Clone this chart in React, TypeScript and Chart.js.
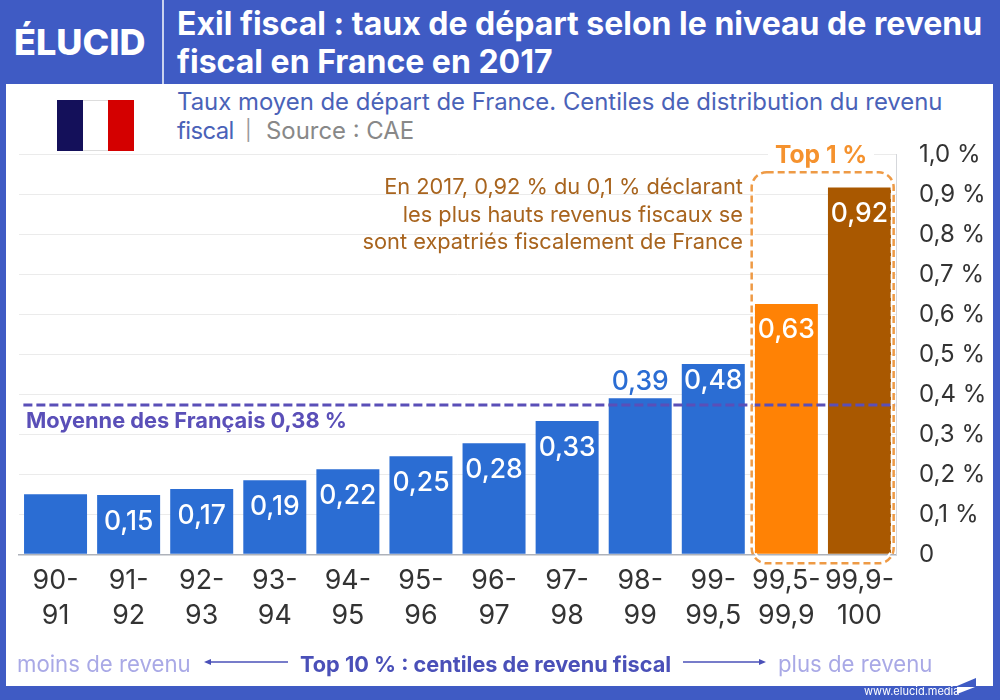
import React, { useEffect, useRef } from "react";
import { Chart, registerables } from "chart.js";

Chart.register(...registerables);

const categories = [
  ["90-", "91"], ["91-", "92"], ["92-", "93"], ["93-", "94"], ["94-", "95"], ["95-", "96"],
  ["96-", "97"], ["97-", "98"], ["98-", "99"], ["99-", "99,5"], ["99,5-", "99,9"], ["99,9-", "100"],
];
const barValues = [0.15, 0.148, 0.163, 0.185, 0.2125, 0.245, 0.2775, 0.333, 0.39, 0.476, 0.626, 0.917];
const valueLabels = ["", "0,15", "0,17", "0,19", "0,22", "0,25", "0,28", "0,33", "0,39", "0,48", "0,63", "0,92"];
const meanLevel = 0.373;
const yTicks = ["0", "0,1 %", "0,2 %", "0,3 %", "0,4 %", "0,5 %", "0,6 %", "0,7 %", "0,8 %", "0,9 %", "1,0 %"];

const FONT = "Inter, 'Open Sans', sans-serif";
const HEADER = "#3F5BC4";
const BLUE = "#2B6DD3";
const ORANGE = "#FF8205";
const BROWN = "#A95800";
const PURPLE = "#5A4FB8";
const BOX = "#EE9A45";
const barColors = barValues.map((_, i) => (i === 11 ? BROWN : i === 10 ? ORANGE : BLUE));

const overlayPlugin = {
  id: "overlay",
  afterDatasetsDraw(chart: any) {
    const { ctx, scales } = chart;
    const x = scales.x;
    const y = scales.y;
    ctx.save();
    ctx.font = `500 26.5px ${FONT}`;
    ctx.textAlign = "center";
    ctx.textBaseline = "middle";
    valueLabels.forEach((t, i) => {
      if (!t) return;
      const top = y.getPixelForValue(barValues[i]);
      const off = i === 8 ? -16 : i === 9 ? 17 : 26.5;
      ctx.fillStyle = i === 8 ? BLUE : "#fff";
      ctx.fillText(t, x.getPixelForValue(i), top + off);
    });
    const left = x.getPixelForValue(10) - 34.7;
    const right = x.getPixelForValue(11) + 34.2;
    const top = y.getPixelForValue(0.955);
    const bottom = y.getPixelForValue(-0.0225);
    const path = (inset: number) => {
      ctx.beginPath();
      ctx.roundRect(left + inset, top + inset, right - left - inset * 2, bottom - top - inset * 2, 15);
    };
    ctx.lineWidth = 2;
    ctx.strokeStyle = "#fff";
    ctx.setLineDash([6, 3]);
    path(2);
    ctx.stroke();
    ctx.lineWidth = 2.5;
    ctx.strokeStyle = BOX;
    ctx.setLineDash([7, 4]);
    path(0);
    ctx.stroke();
    ctx.restore();
  },
};

const abs = (left: number, top: number, extra: any = {}): any => ({
  position: "absolute",
  left,
  top,
  whiteSpace: "nowrap",
  fontFamily: FONT,
  ...extra,
});

export default function App() {
  const ref = useRef<HTMLCanvasElement>(null);
  useEffect(() => {
    const chart = new Chart(ref.current!, {
      type: "bar",
      plugins: [overlayPlugin],
      data: {
        labels: categories as any,
        datasets: [
          {
            type: "line",
            label: "Moyenne des Français",
            data: [{ x: 0.005, y: meanLevel }, { x: 0.999, y: meanLevel }],
            xAxisID: "x2",
            borderColor: PURPLE,
            borderWidth: 3,
            borderDash: [9, 4],
            pointRadius: 0,
            order: 0,
          } as any,
          {
            type: "bar",
            label: "Taux moyen de départ",
            data: barValues,
            backgroundColor: barColors,
            barPercentage: 0.862,
            categoryPercentage: 1,
            grouped: false,
            order: 1,
          } as any,
        ],
      },
      options: {
        responsive: false,
        animation: false,
        devicePixelRatio: 1,
        layout: { padding: { left: 19, top: 154.3, right: 0, bottom: 0 } },
        plugins: { legend: { display: false }, tooltip: { enabled: false }, title: { display: false } },
        scales: {
          x: {
            type: "category",
            afterFit: (s: any) => { s.height = 700 - 554.3; },
            grid: { display: false, drawTicks: false },
            border: { color: "#AEB2BA", width: 1.5 },
            ticks: {
              autoSkip: false,
              maxRotation: 0,
              padding: 9,
              color: "#333",
              font: { family: FONT, size: 26.8, lineHeight: 1.306 },
            },
          },
          x2: { type: "linear", min: 0, max: 1, display: false, offset: false },
          y: {
            type: "linear",
            position: "right",
            min: 0,
            max: 1,
            afterFit: (s: any) => { s.width = 104; },
            grid: { color: "#EBEBEB", lineWidth: 1, drawTicks: false },
            border: { color: "#D5D7DB", width: 1 },
            ticks: {
              stepSize: 0.1,
              padding: 23,
              color: "#333",
              font: { family: FONT, size: 24 },
              callback: (_: any, i: number) => yTicks[i],
            },
          },
        },
      },
    } as any);
    return () => chart.destroy();
  }, []);

  return (
    <div style={{ position: "fixed", left: 0, top: 0, width: 1000, height: 700, background: HEADER, overflow: "hidden" }}>
      <div style={{ position: "absolute", left: 6, top: 84, width: 987, height: 602, background: "#fff" }} />
      <div style={{ position: "absolute", left: 162, top: 0, width: 1.5, height: 84, background: "#C9D2EE" }} />
      <div style={abs(14, 20, { color: "#fff", fontWeight: 800, fontSize: 36, lineHeight: "44px" })}>ÉLUCID</div>
      <div style={abs(177, 5, { color: "#fff", fontWeight: 700, fontSize: 32, lineHeight: "38px" })}>
        Exil fiscal : taux de départ selon le niveau de revenu<br />fiscal en France en 2017
      </div>
      <div style={abs(177, 87, { color: "#4A62B8", fontSize: 23.9, lineHeight: "29px" })}>
        Taux moyen de départ de France. Centiles de distribution du revenu<br />
        <span style={{ letterSpacing: -0.6 }}>fiscal</span>
      </div>
      <div style={abs(245, 116, { color: "#9A9A9A", fontSize: 20, lineHeight: "29px" })}>|</div>
      <div style={abs(266, 116, { color: "#888", fontSize: 23.9, lineHeight: "29px" })}>Source : CAE</div>
      <div style={{ position: "absolute", left: 57, top: 100, width: 77, height: 51, display: "flex" }}>
        <div style={{ flex: 1, background: "#14105A" }} />
        <div style={{ flex: 1, background: "#fff", borderTop: "1px solid #ddd", borderBottom: "1px solid #ddd" }} />
        <div style={{ flex: 1, background: "#D40000" }} />
      </div>
      <canvas ref={ref} width={1000} height={700} style={{ position: "absolute", left: 0, top: 0, width: 1000, height: 700 }} />
      <div style={abs(768, 140, { color: "#F5922E", fontWeight: 700, fontSize: 24.6, lineHeight: "29px", background: "#fff", padding: "0 7px" })}>Top 1 %</div>
      <div style={abs(343, 173, { width: 400, textAlign: "right", color: "#A8641E", fontSize: 21.8, lineHeight: "27.5px" })}>
        En 2017, 0,92 % du 0,1 % déclarant<br />les plus hauts revenus fiscaux se<br />sont expatriés fiscalement de France
      </div>
      <div style={abs(26, 406, { color: PURPLE, fontWeight: 700, fontSize: 21.8, lineHeight: "28px" })}>Moyenne des Français 0,38 %</div>
      <div style={abs(17, 650, { color: "#A9A9E6", fontSize: 22.2, lineHeight: "28px" })}>moins de revenu</div>
      <div style={abs(300, 650, { color: "#4A50B8", fontWeight: 700, fontSize: 21.7, lineHeight: "28px" })}>Top 10 % : centiles de revenu fiscal</div>
      <div style={abs(778, 650, { color: "#A9A9E6", fontSize: 22.2, lineHeight: "28px" })}>plus de revenu</div>
      <svg style={{ position: "absolute", left: 0, top: 0, pointerEvents: "none" }} width={1000} height={700}>
        <line x1={208} y1={662} x2={288} y2={662} stroke="#4A50B8" strokeWidth={1.6} />
        <polygon points="204,662 211,659 211,665" fill="#4A50B8" />
        <line x1={683} y1={662} x2={762} y2={662} stroke="#4A50B8" strokeWidth={1.6} />
        <polygon points="766,662 759,659 759,665" fill="#4A50B8" />
        <polygon points="957,686 976,678 976,686" fill={HEADER} />
        <polygon points="957,687 975,687 957,694" fill="#fff" />
      </svg>
      <div style={abs(864, 684, { color: "#fff", fontSize: 11, lineHeight: "14px" })}>www.elucid.media</div>
    </div>
  );
}
